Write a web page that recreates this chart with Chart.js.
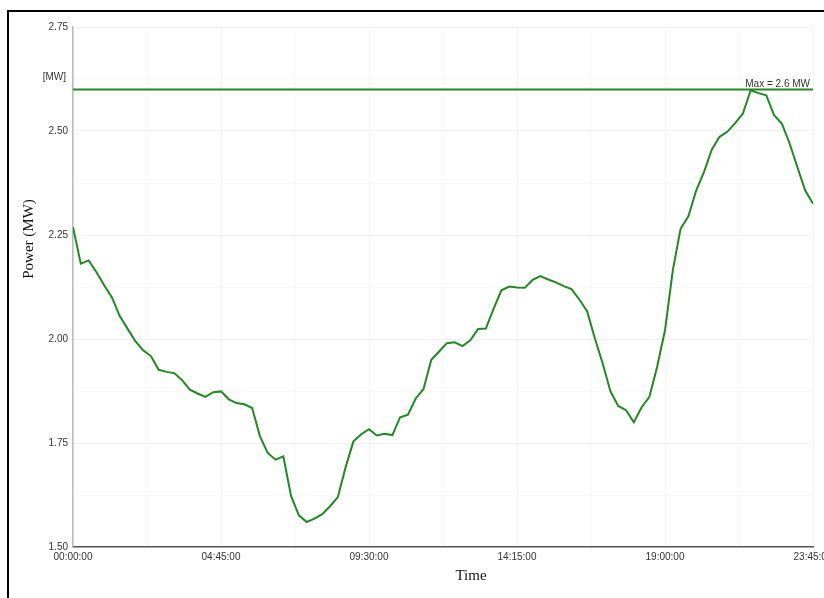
<!DOCTYPE html>
<html>
<head>
<meta charset="utf-8">
<script src="https://cdn.jsdelivr.net/npm/chart.js@4/dist/chart.umd.min.js"></script>
<style>
  html, body { margin: 0; padding: 0; background: #fff; overflow: hidden; }
  #wrap { position: relative; width: 824px; height: 598px; }
  #frame { position: absolute; left: 7px; top: 10px; width: 900px; height: 700px; border: 2px solid #000; box-sizing: border-box; pointer-events: none; }
  canvas { position: absolute; left: 0; top: 0; }
</style>
</head>
<body>
<div id="wrap">
  <canvas id="chart" width="824" height="598"></canvas>
  <div id="frame"></div>
</div>
<script>
// 15-minute samples, 00:00:00 .. 23:45:00
const times = [];
for (let h = 0; h < 24; h++) {
    for (let m = 0; m < 60; m += 15) {
        times.push(String(h).padStart(2, '0') + ':' + String(m).padStart(2, '0') + ':00');
    }
}

// power, MW
const powerMW = [
    2.269, 2.181, 2.189, 2.161, 2.129, 2.100, 2.055, 2.025, 1.995, 1.973,
    1.959, 1.926, 1.921, 1.918, 1.901, 1.878, 1.869, 1.861, 1.872, 1.874,
    1.855, 1.846, 1.843, 1.834, 1.766, 1.726, 1.710, 1.718, 1.622, 1.576,
    1.560, 1.568, 1.579, 1.598, 1.620, 1.692, 1.754, 1.771, 1.783, 1.768,
    1.772, 1.769, 1.812, 1.818, 1.857, 1.880, 1.950, 1.970, 1.990, 1.992,
    1.983, 1.997, 2.024, 2.025, 2.073, 2.117, 2.126, 2.124, 2.123, 2.142,
    2.151, 2.143, 2.136, 2.127, 2.120, 2.095, 2.067, 2.001, 1.941, 1.874,
    1.839, 1.829, 1.800, 1.836, 1.861, 1.934, 2.021, 2.165, 2.265, 2.295,
    2.357, 2.401, 2.455, 2.486, 2.498, 2.519, 2.542, 2.598, 2.591, 2.586,
    2.538, 2.518, 2.470, 2.413, 2.357, 2.325
];

const maxMW = 2.6;
const yTicks = [1.50, 1.75, 2.00, 2.25, 2.50, 2.75];
const xLabelEvery = 19;

const lineGreen = '#1f8a1f';

const annotations = {
    id: 'annotations',
    afterDatasetsDraw(chart) {
        const { ctx, chartArea, scales } = chart;
        const yMax = scales.y.getPixelForValue(maxMW);
        ctx.save();
        // max guide line
        ctx.strokeStyle = lineGreen;
        ctx.lineWidth = 2;
        ctx.beginPath();
        ctx.moveTo(chartArea.left, yMax);
        ctx.lineTo(chartArea.right, yMax);
        ctx.stroke();

        ctx.fillStyle = '#333';
        ctx.font = '10px "Liberation Sans", Arial, sans-serif';
        ctx.textAlign = 'right';
        ctx.textBaseline = 'alphabetic';
        ctx.fillText('Max = ' + maxMW + ' MW', chartArea.right - 3, yMax - 2);

        ctx.textBaseline = 'middle';
        ctx.fillText('[MW]', chartArea.left - 7, yMax - 12);

        // axis titles
        ctx.fillStyle = '#111';
        ctx.font = '15px "Liberation Serif", "Times New Roman", serif';
        ctx.textAlign = 'center';
        ctx.fillText('Time', 471, 576);
        ctx.translate(29, 239);
        ctx.rotate(-Math.PI / 2);
        ctx.fillText('Power (MW)', 0, 0);
        ctx.restore();
    }
};

new Chart(document.getElementById('chart'), {
    type: 'line',
    data: {
        datasets: [{
            data: powerMW.map((v, i) => ({ x: i, y: v })),
            borderColor: lineGreen,
            borderWidth: 2,
            pointRadius: 0,
            tension: 0,
            fill: false
        }]
    },
    options: {
        responsive: false,
        animation: false,
        layout: { padding: { top: 27, right: 11, left: 0, bottom: 0 } },
        plugins: { legend: { display: false }, tooltip: { enabled: false } },
        scales: {
            x: {
                type: 'linear',
                min: 0,
                max: times.length - 1,
                afterFit(scale) {
                    scale.height = 51;
                    scale.paddingLeft = 0;
                    scale.paddingRight = 0;
                },
                ticks: {
                    stepSize: xLabelEvery / 2,
                    autoSkip: false,
                    maxRotation: 0,
                    padding: 4,
                    color: '#333',
                    font: { family: '"Liberation Sans", Arial, sans-serif', size: 10 },
                    callback: v => (v % xLabelEvery === 0 ? times[v] : '')
                },
                grid: {
                    drawTicks: false,
                    color: c => (c.tick && c.tick.value % xLabelEvery === 0 ? '#f2f2f2' : '#f8f8f8')
                },
                border: { color: '#555', width: 1.5 }
            },
            y: {
                min: yTicks[0],
                max: yTicks[yTicks.length - 1],
                afterFit(scale) { scale.width = 73; },
                ticks: {
                    stepSize: 0.125,
                    padding: 5,
                    color: '#333',
                    font: { family: '"Liberation Sans", Arial, sans-serif', size: 10 },
                    callback: v => (Math.round(v * 1000) % 250 === 0 ? v.toFixed(2) : '')
                },
                grid: {
                    drawTicks: false,
                    color: c => (c.tick && Math.round(c.tick.value * 1000) % 250 === 0 ? '#f2f2f2' : '#f8f8f8')
                },
                border: { color: '#bbb', width: 1.5 }
            }
        }
    },
    plugins: [annotations]
});
</script>
</body>
</html>
